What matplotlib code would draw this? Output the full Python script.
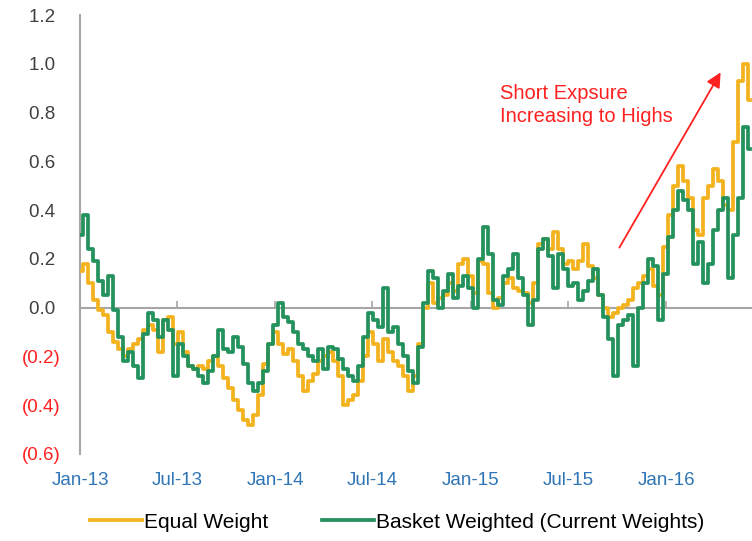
import numpy as np
import pandas as pd
import matplotlib
matplotlib.use("Agg")
import matplotlib.pyplot as plt
import matplotlib.dates as mdates
from matplotlib.ticker import FuncFormatter

plt.rcParams['font.family'] = ['Liberation Sans', 'DejaVu Sans']

# DATA ------------------------------------------------------------
# readings taken every ~9.3 days from Jan-13 to early Jun-16
equal_weight = [
    0.15, 0.18, 0.10, 0.03, -0.01, -0.03, -0.10, -0.14, -0.17, -0.20,
    -0.17, -0.15, -0.13, -0.09, -0.07, -0.09, -0.18, -0.05, -0.04, -0.15,
    -0.10, -0.18, -0.24, -0.25, -0.24, -0.25, -0.22, -0.20, -0.24, -0.29,
    -0.33, -0.38, -0.42, -0.46, -0.48, -0.44, -0.36, -0.23, -0.15, -0.10,
    -0.15, -0.19, -0.17, -0.22, -0.28, -0.34, -0.30, -0.27, -0.22, -0.20,
    -0.18, -0.22, -0.28, -0.40, -0.38, -0.36, -0.30, -0.20, -0.10, -0.15,
    -0.22, -0.13, -0.18, -0.22, -0.24, -0.28, -0.34, -0.28, -0.15, 0.00,
    0.10, 0.02, 0.04, 0.05, 0.10, 0.07, 0.18, 0.20, 0.13, 0.06,
    0.19, 0.18, 0.06, 0.00, 0.04, 0.10, 0.12, 0.08, 0.07, 0.06,
    0.02, 0.10, 0.26, 0.28, 0.24, 0.31, 0.24, 0.18, 0.19, 0.16,
    0.19, 0.26, 0.17, 0.12, 0.05, 0.00, -0.04, -0.02, 0.00, 0.01,
    0.03, 0.08, 0.10, 0.13, 0.16, 0.09, 0.05, 0.25, 0.38, 0.50,
    0.58, 0.52, 0.45, 0.32, 0.30, 0.45, 0.50, 0.57, 0.52, 0.42,
    0.40, 0.68, 0.93, 1.00, 0.85,
]
basket_weighted = [
    0.30, 0.38, 0.24, 0.19, 0.11, 0.05, 0.13, -0.01, -0.12, -0.22,
    -0.18, -0.24, -0.29, -0.11, -0.02, -0.05, -0.12, -0.05, -0.09, -0.28,
    -0.15, -0.20, -0.24, -0.25, -0.28, -0.31, -0.26, -0.20, -0.09, -0.17,
    -0.18, -0.12, -0.16, -0.23, -0.31, -0.34, -0.31, -0.26, -0.15, -0.07,
    0.02, -0.04, -0.06, -0.10, -0.15, -0.17, -0.20, -0.22, -0.17, -0.25,
    -0.16, -0.17, -0.21, -0.25, -0.28, -0.30, -0.24, -0.12, -0.02, -0.05,
    -0.08, 0.08, -0.10, -0.08, -0.15, -0.20, -0.26, -0.31, -0.16, 0.02,
    0.15, 0.12, 0.00, 0.07, 0.14, 0.04, 0.09, 0.13, 0.08, 0.00,
    0.20, 0.33, 0.22, 0.03, 0.01, 0.13, 0.16, 0.22, 0.12, 0.05,
    -0.07, 0.03, 0.24, 0.28, 0.21, 0.08, 0.22, 0.16, 0.09, 0.10,
    0.03, 0.07, 0.11, 0.16, 0.05, -0.04, -0.13, -0.28, -0.07, -0.05,
    -0.03, -0.24, 0.00, 0.10, 0.20, 0.17, -0.05, 0.14, 0.29, 0.40,
    0.48, 0.44, 0.40, 0.18, 0.27, 0.10, 0.18, 0.32, 0.40, 0.45,
    0.12, 0.30, 0.45, 0.74, 0.65,
]
dates = pd.date_range("2013-01-01", "2016-06-06", periods=len(equal_weight))

tick_dates = pd.to_datetime(["2013-01-01", "2013-07-01", "2014-01-01", "2014-07-01",
                             "2015-01-01", "2015-07-01", "2016-01-01"])
y_ticks = np.arange(-0.6, 1.21, 0.2)

# PLOT ------------------------------------------------------------
yellow = "#F3B31F"
green = "#24925D"
grey = "#A6A6A6"
red = "#FF2020"

fig = plt.figure(figsize=(7.52, 5.41), dpi=100)
ax = fig.add_axes([80/752, 1 - 454/541, 1 - 80/752, (454 - 15)/541])

ax.plot(dates, equal_weight, color=yellow, lw=2.7, drawstyle="steps-mid",
        label="Equal Weight", zorder=3)
ax.plot(dates, basket_weighted, color=green, lw=2.7, drawstyle="steps-mid",
        label="Basket Weighted (Current Weights)", zorder=4)

ax.set_ylim(-0.6, 1.2)
ax.set_xlim(pd.Timestamp("2013-01-01"), pd.Timestamp("2016-06-09"))

# y axis
ax.set_yticks(y_ticks)
def yfmt(v, pos):
    if v < -1e-9:
        return f"({abs(v):.1f})"
    return f"{abs(v):.1f} "
ax.yaxis.set_major_formatter(FuncFormatter(yfmt))
ax.tick_params(axis="y", length=0, pad=14, labelsize=13.5, labelcolor="#404040")
for lab, v in zip(ax.get_yticklabels(), y_ticks):
    if v < -1e-9:
        lab.set_color(red)

for s in ["top", "right"]:
    ax.spines[s].set_visible(False)
ax.spines["left"].set_color(grey)
ax.spines["left"].set_linewidth(1.5)
ax.spines["bottom"].set_position(("data", 0))
ax.spines["bottom"].set_color(grey)
ax.spines["bottom"].set_linewidth(1.5)

# ticks on the zero line, labels at the bottom
ax.set_xticks(tick_dates)
ax.tick_params(axis="x", direction="in", length=5, color=grey, width=1.2,
               labelbottom=False)
sec = ax.secondary_xaxis("bottom")
sec.set_xticks(tick_dates)
sec.xaxis.set_major_formatter(mdates.DateFormatter("%b-%y"))
sec.tick_params(axis="x", length=0, pad=13, labelsize=13.5, labelcolor="#2F75B5")
sec.spines["bottom"].set_visible(False)

# annotation
ax.annotate("", xy=(722/752, 1 - 70/541), xytext=(618/752, 1 - 250/541),
            xycoords="figure fraction", textcoords="figure fraction",
            arrowprops=dict(arrowstyle="-|>", color=red, lw=1.3,
                            mutation_scale=22))
fig.text(500/752, 1 - 105/541, "Short Expsure\nIncreasing to Highs",
         color=red, fontsize=14.5, ha="left", va="center", linespacing=1.3)

fig.legend(loc="center", bbox_to_anchor=(0.528, 0.035), ncol=2, frameon=False,
           fontsize=15, handlelength=2.5, handletextpad=0.1, columnspacing=2.6)

plt.savefig("out.png", dpi=100)
